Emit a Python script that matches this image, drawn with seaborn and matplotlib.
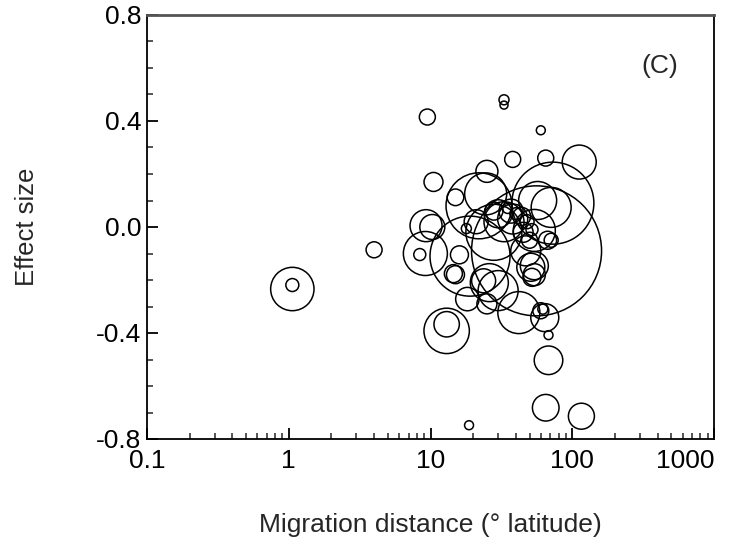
import numpy as np
import pandas as pd
import matplotlib
matplotlib.use("Agg")
import matplotlib.pyplot as plt
import seaborn as sns
from matplotlib.ticker import MultipleLocator, LogLocator, NullFormatter, FixedLocator

# --- Data ---
# migration distance (deg latitude), effect size, study weight (bubble area)
distance = [1.06, 1.06, 4.0, 9.5, 33, 33, 60, 38, 65, 112,
            25, 10.5, 13.0, 13.0, 68, 68, 65, 116, 18.7, 64,
            42, 18.2, 25, 56, 73, 8.4, 9.2, 10.3, 9.3, 24.5,
            15.0, 17.9, 22.0, 19.0, 71, 71, 51, 52, 14.5, 23.7,
            57, 54, 54, 54, 67, 26, 15, 16, 62, 60,
            37, 40, 35, 44, 38, 48, 45, 52, 30, 28,
            50, 33, 47, 21, 28, 30]
effect = [-0.234, -0.219, -0.086, 0.415, 0.48, 0.46, 0.365, 0.255, 0.26, 0.245,
          0.21, 0.17, -0.392, -0.367, -0.408, -0.503, -0.682, -0.714, -0.748, -0.342,
          -0.323, -0.272, -0.29, -0.09, 0.09, -0.104, -0.10, 0.0, 0.005, 0.125,
          0.112, -0.006, 0.08, -0.11, 0.074, -0.05, -0.152, -0.19, -0.176, -0.203,
          0.10, -0.013, -0.146, -0.18, -0.05, -0.21, -0.18, -0.105, -0.31, -0.316,
          0.06, 0.05, 0.07, 0.04, 0.03, 0.02, -0.02, -0.01, 0.05, 0.06,
          -0.05, 0.02, -0.09, 0.02, -0.02, -0.24]
weight = [470, 42, 64, 64, 25, 16, 20, 64, 64, 289,
          121, 90, 515, 161, 20, 204, 177, 169, 20, 196,
          441, 137, 100, 4225, 1681, 36, 484, 156, 256, 441,
          69, 25, 1089, 1600, 400, 49, 196, 81, 81, 144,
          361, 441, 196, 121, 81, 361, 81, 81, 25, 64,
          144, 36, 25, 81, 225, 49, 100, 36, 196, 81,
          64, 400, 225, 144, 784, 400]

x_ticks = [0.1, 1, 10, 100, 1000]
x_labels = ["0.1", "1", "10", "100", "1000"]

df = pd.DataFrame({"distance": distance, "effect": effect, "weight": weight})

# marker area in points^2 proportional to weight (radius in px at 100 dpi)
k = (2 * 0.72) ** 2
wmin, wmax = min(weight), max(weight)

sns.set_theme(style="white")
plt.rcParams["font.family"] = ["Liberation Sans", "DejaVu Sans"]

fig = plt.figure(figsize=(7.31, 5.47), dpi=100)
ax = fig.add_axes([147 / 731, 1 - 439 / 547, 567 / 731, 424 / 547])

sns.scatterplot(data=df, x="distance", y="effect", size="weight",
                sizes=(k * wmin, k * wmax), size_norm=(wmin, wmax),
                facecolor="none", edgecolor="black", linewidth=1.1,
                legend=False, ax=ax)

ax.set_xscale("log")
ax.set_xlim(0.1, 1000)
ax.set_ylim(-0.8, 0.8)

ax.xaxis.set_major_locator(FixedLocator(x_ticks))
ax.set_xticklabels(x_labels)
ax.xaxis.set_minor_locator(LogLocator(base=10, subs=np.arange(2, 10)))
ax.xaxis.set_minor_formatter(NullFormatter())
ax.yaxis.set_major_locator(MultipleLocator(0.4))
ax.yaxis.set_minor_locator(MultipleLocator(0.1))
ax.set_yticks([-0.8, -0.4, 0.0, 0.4, 0.8])
ax.set_yticklabels(["-0.8", "-0.4", "0.0", "0.4", "0.8"])

ax.tick_params(which="major", direction="in", length=8, width=1.3, labelsize=19,
               colors="black", bottom=True, left=True)
ax.tick_params(axis="x", which="major", pad=7)
ax.tick_params(axis="y", which="major", pad=4)
ax.tick_params(which="minor", direction="in", length=4.5, width=1.1,
               bottom=True, left=True)
# last x label sits flush with the right spine, as in the original
ax.get_xticklabels()[-1].set_horizontalalignment("right")

for side in ["left", "bottom", "top", "right"]:
    ax.spines[side].set_visible(True)
    ax.spines[side].set_color("black")
    ax.spines[side].set_linewidth(1.3)
ax.spines["top"].set_color("#555555")
ax.spines["top"].set_linewidth(2.0)

ax.set_xlabel("Migration distance (° latitude)", fontsize=19)
ax.xaxis.set_label_coords(0.5, -0.175)
ax.set_ylabel("Effect size", fontsize=18.5)
ax.yaxis.set_label_coords(-0.19, 0.5)
ax.text(0.905, 0.88, "(C)", transform=ax.transAxes, fontsize=19,
        ha="center", va="center")

fig.savefig("out.png", dpi=100)
